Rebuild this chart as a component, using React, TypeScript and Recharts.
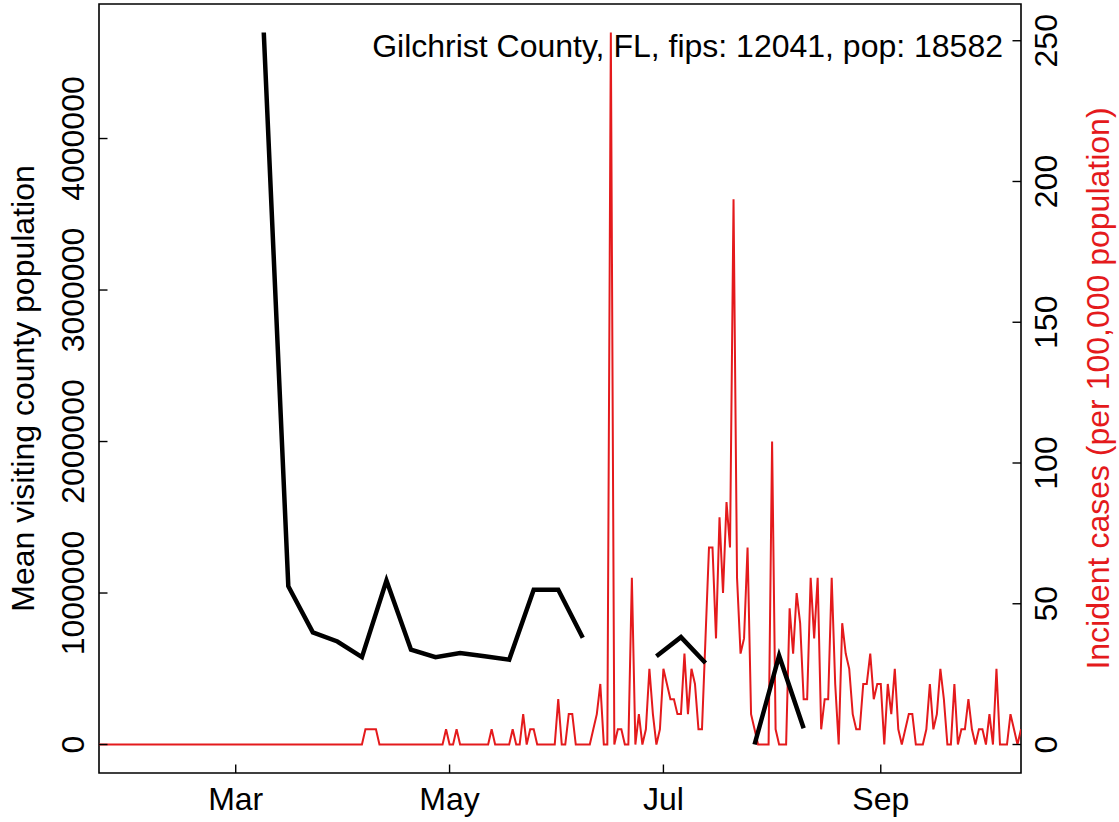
import { ComposedChart, Line, XAxis, YAxis, ReferenceArea } from "recharts"

// daily incident cases per 100,000, one value per day starting 2020-01-22
const caseRates = [
  0, 0, 0, 0, 0, 0, 0, 0, 0, 0,
  0, 0, 0, 0, 0, 0, 0, 0, 0, 0,
  0, 0, 0, 0, 0, 0, 0, 0, 0, 0,
  0, 0, 0, 0, 0, 0, 0, 0, 0, 0,
  0, 0, 0, 0, 0, 0, 0, 0, 0, 0,
  0, 0, 0, 0, 0, 0, 0, 0, 0, 0,
  0, 0, 0, 0, 0, 0, 0, 0, 0, 0,
  0, 0, 0, 0, 0, 0, 5.4, 5.4, 5.4, 5.4,
  0, 0, 0, 0, 0, 0, 0, 0, 0, 0,
  0, 0, 0, 0, 0, 0, 0, 0, 0, 5.4,
  0, 0, 5.4, 0, 0, 0, 0, 0, 0, 0,
  0, 0, 5.4, 0, 0, 0, 0, 0, 5.4, 0,
  0, 10.8, 0, 5.4, 5.4, 0, 0, 0, 0, 0,
  0, 16.1, 0, 0, 10.8, 10.8, 0, 0, 0, 0,
  0, 5.4, 10.8, 21.5, 0, 0, 252.9, 0, 5.4, 5.4,
  0, 0, 59.2, 0, 10.8, 0, 5.4, 26.9, 10.8, 0,
  5.4, 26.9, 21.5, 16.1, 16.1, 10.8, 10.8, 32.3, 10.8, 26.9,
  21.5, 5.4, 5.4, 37.7, 70.0, 70.0, 37.7, 80.7, 53.8, 86.1,
  70.0, 193.7, 59.2, 32.3, 37.7, 70.0, 10.8, 5.4, 0, 0,
  0, 0, 107.6, 5.4, 0, 0, 0, 48.4, 32.3, 53.8,
  43.1, 16.1, 16.1, 59.2, 37.7, 59.2, 5.4, 16.1, 16.1, 59.2,
  21.5, 0, 43.1, 32.3, 26.9, 10.8, 5.4, 5.4, 21.5, 21.5,
  32.3, 16.1, 21.5, 21.5, 0, 21.5, 10.8, 26.9, 5.4, 0,
  5.4, 10.8, 10.8, 0, 0, 0, 5.4, 21.5, 5.4, 10.8,
  26.9, 16.1, 0, 0, 21.5, 0, 5.4, 5.4, 16.1, 5.4,
  0, 5.4, 5.4, 0, 10.8, 0, 26.9, 0, 0, 0,
  10.8, 5.4, 0, 5.4,
]

// weekly mean visiting population (day = days since 2020-01-22), null = no data
const visitDays = [47, 54, 61, 68, 75, 82, 89, 96, 103, 110, 117, 124, 131, 138, 145, 152, 159, 166, 173, 180, 187, 194, 201]
const visitMeans = [
  4700000, 1045000, 740000, 680000, 577000, 1082000, 626000, 577000, 604000, 582000, 560000, 1022000,
  1022000, 705000, null, null, 582000, 709000, 538000, null, 0, 586000, 107000,
]

const monthTickDays = [39, 100, 161, 223]
const monthTickLabels = ["Mar", "May", "Jul", "Sep"]
const visitTicks = [0, 1000000, 2000000, 3000000, 4000000]
const caseTicks = [0, 50, 100, 150, 200, 250]

const title = "Gilchrist County, FL, fips: 12041, pop: 18582"
const leftTitle = "Mean visiting county population"
const rightTitle = "Incident cases (per 100,000 population)"

const caseData = caseRates.map((rate, i) => ({ day: i, rate }))
const visitData = visitDays.map((day, i) => ({ day, visits: visitMeans[i] }))

// layout (R style plot box with inward ticks)
const W = 1119
const H = 822
const LEFT = 99
const RIGHT = 1021
const TOP = 4
const BOTTOM = 773
const TICK = 8.5
const FONT = "'Liberation Sans', Arial, Helvetica, sans-serif"
const FS = 32
const RED = "#E41A1C"

function XTick(props: any) {
  const { x, payload } = props
  const label = monthTickLabels[monthTickDays.indexOf(payload.value)]
  return (
    <g>
      <line x1={x} x2={x} y1={BOTTOM} y2={BOTTOM - TICK} stroke="#000" strokeWidth={1.4} />
      <text x={x} y={810} textAnchor="middle" fontSize={FS} fontFamily={FONT} fill="#000">
        {label}
      </text>
    </g>
  )
}

function LeftTick(props: any) {
  const { y, payload } = props
  const tx = 84
  return (
    <g>
      <line x1={LEFT} x2={LEFT + TICK} y1={y} y2={y} stroke="#000" strokeWidth={1.4} />
      <text x={tx} y={y} transform={`rotate(-90, ${tx}, ${y})`} textAnchor="middle" fontSize={FS} fontFamily={FONT} fill="#000">
        {String(payload.value)}
      </text>
    </g>
  )
}

function RightTick(props: any) {
  const { y, payload } = props
  const tx = 1057
  return (
    <g>
      <line x1={RIGHT} x2={RIGHT - TICK} y1={y} y2={y} stroke="#000" strokeWidth={1.4} />
      <text x={tx} y={y} transform={`rotate(-90, ${tx}, ${y})`} textAnchor="middle" fontSize={FS} fontFamily={FONT} fill="#000">
        {String(payload.value)}
      </text>
    </g>
  )
}

function LeftTitle() {
  const cx = 33.5
  const cy = (TOP + BOTTOM) / 2
  return (
    <text x={cx} y={cy} transform={`rotate(-90, ${cx}, ${cy})`} textAnchor="middle" fontSize={FS} fontFamily={FONT} fill="#000">
      {leftTitle}
    </text>
  )
}

function RightTitle() {
  const cx = 1109
  const cy = (TOP + BOTTOM) / 2
  return (
    <text x={cx} y={cy} transform={`rotate(-90, ${cx}, ${cy})`} textAnchor="middle" fontSize={FS} fontFamily={FONT} fill={RED}>
      {rightTitle}
    </text>
  )
}

function PlotTitle() {
  return (
    <text x={1003} y={57} textAnchor="end" fontSize={FS} fontFamily={FONT} fill="#000">
      {title}
    </text>
  )
}

export default function App() {
  return (
    <div style={{ position: "absolute", left: 0, top: 0, background: "#fff" }}>
      <ComposedChart width={W} height={H} margin={{ top: TOP, right: 0, bottom: 0, left: 0 }}>
        <XAxis
          dataKey="day"
          type="number"
          domain={[0, 263]}
          ticks={monthTickDays}
          allowDataOverflow
          height={H - BOTTOM}
          axisLine={false}
          tickLine={false}
          tick={<XTick />}
          interval={0}
        />
        <YAxis
          yAxisId="left"
          type="number"
          domain={[-188000, 4888000]}
          ticks={visitTicks}
          allowDataOverflow
          width={LEFT}
          axisLine={false}
          tickLine={false}
          tick={<LeftTick />}
          interval={0}
          label={<LeftTitle />}
        />
        <YAxis
          yAxisId="right"
          orientation="right"
          type="number"
          domain={[-10.12, 263.05]}
          ticks={caseTicks}
          allowDataOverflow
          width={W - RIGHT}
          axisLine={false}
          tickLine={false}
          tick={<RightTick />}
          interval={0}
          label={<RightTitle />}
        />
        <Line
          data={caseData}
          dataKey="rate"
          yAxisId="right"
          type="linear"
          stroke={RED}
          strokeWidth={2}
          dot={false}
          activeDot={false}
          isAnimationActive={false}
        />
        <Line
          data={visitData}
          dataKey="visits"
          yAxisId="left"
          type="linear"
          stroke="#000"
          strokeWidth={4.5}
          dot={false}
          activeDot={false}
          connectNulls={false}
          isAnimationActive={false}
        />
        <ReferenceArea
          yAxisId="left"
          x1={0}
          x2={263}
          y1={-188000}
          y2={4888000}
          fill="none"
          stroke="#000"
          strokeWidth={1.6}
          ifOverflow="visible"
          label={<PlotTitle />}
        />
      </ComposedChart>
    </div>
  )
}
